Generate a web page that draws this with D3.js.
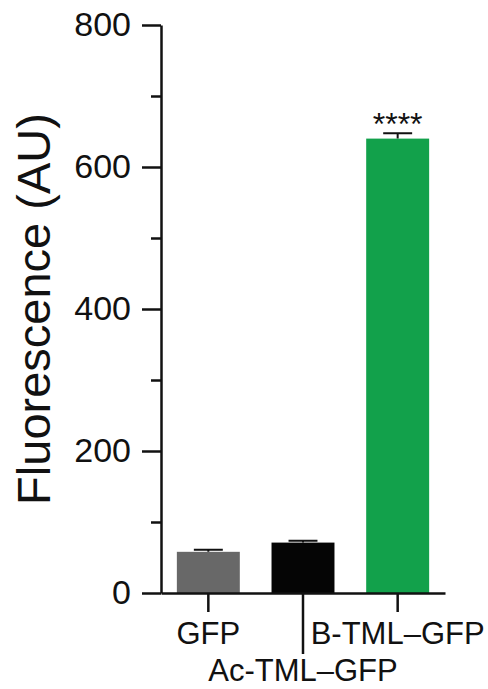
<!DOCTYPE html>
<html>
<head>
<meta charset="utf-8">
<script src="https://cdn.jsdelivr.net/npm/d3@7"></script>
<style>
	body { margin: 0; background: #fff; }
	svg { display: block; }
	text { font-family: "Liberation Sans", Arial, Helvetica, sans-serif; fill: #111; }
</style>
</head>
<body>
<div id="chart"></div>
<script>
// groups, means and SEM
const groups = ['GFP', 'Ac-TML\u2013GFP', 'B-TML\u2013GFP'];
const means = [58, 71, 640];
const errors = [3, 2.5, 7.5];
const barColors = ['#686868', '#050505', '#12a14b'];
const labelRows = [0, 1, 0];
const stars = ['', '', '****'];
const yTicks = [0, 200, 400, 600, 800];
const yMinorTicks = [100, 300, 500, 700];

const width = 488;
const height = 689;
const margin = {top: 25, right: 43, bottom: 96, left: 161};

let svg = d3.select('#chart')
	.append('svg')
	.attr('width', width)
	.attr('height', height);

let x = d3.scaleBand()
	.domain(groups)
	.range([margin.left, width - margin.right])
	.paddingInner(0.335)
	.paddingOuter(0.1675);

let y = d3.scaleLinear()
	.domain([0, 800])
	.range([height - margin.bottom, margin.top]);

let data = groups.map(function(g, i) {
	return {name: g, mean: means[i], err: errors[i], color: barColors[i], row: labelRows[i], star: stars[i]};
});

// bars
svg.selectAll('.bar')
	.data(data)
	.enter()
	.append('rect')
	.attr('class', 'bar')
	.attr('x', function(d) { return x(d.name); })
	.attr('y', function(d) { return y(d.mean); })
	.attr('width', x.bandwidth())
	.attr('height', function(d) { return y(0) - y(d.mean); })
	.attr('fill', function(d) { return d.color; });

// error bars (upper half only)
let capW = x.bandwidth() * 0.46;

svg.selectAll('.err')
	.data(data)
	.enter()
	.append('path')
	.attr('class', 'err')
	.attr('fill', 'none')
	.attr('stroke', '#111')
	.attr('stroke-width', 2)
	.attr('d', function(d) {
		let cx = x(d.name) + x.bandwidth() / 2;
		let top = y(d.mean + d.err);
		return 'M' + cx + ',' + y(d.mean) + 'V' + top +
			'M' + (cx - capW / 2) + ',' + top + 'H' + (cx + capW / 2);
	});

// significance
svg.selectAll('.star')
	.data(data.filter(function(d) { return d.star; }))
	.enter()
	.append('text')
	.attr('class', 'star')
	.attr('x', function(d) { return x(d.name) + x.bandwidth() / 2; })
	.attr('y', function(d) { return y(d.mean + d.err) + 2; })
	.attr('text-anchor', 'middle')
	.style('font-size', '32px')
	.text(function(d) { return d.star; });

// y axis
let yAxis = svg.append('g')
	.attr('transform', 'translate(' + margin.left + ',0)')
	.call(d3.axisLeft(y).tickValues(yTicks).tickSize(19).tickPadding(11).tickSizeOuter(0));

svg.append('g')
	.attr('transform', 'translate(' + margin.left + ',0)')
	.call(d3.axisLeft(y).tickValues(yMinorTicks).tickSize(10).tickFormat('').tickSizeOuter(0))
	.select('.domain').remove();

yAxis.selectAll('text')
	.style('font-size', '34px')
	.style('font-family', '"Liberation Sans", Arial, Helvetica, sans-serif')
	.attr('fill', '#111');

// x axis
let xAxis = svg.append('g')
	.attr('transform', 'translate(0,' + y(0) + ')')
	.call(d3.axisBottom(x).tickSize(0).tickSizeOuter(0).tickFormat(''));

xAxis.selectAll('.tick line')
	.attr('y2', function(d, i) { return labelRows[i] ? 61 : 19; });

xAxis.selectAll('.tick text')
	.attr('y', function(d, i) { return labelRows[i] ? 88 : 51; })
	.attr('dy', null)
	.style('font-size', '31px')
	.style('font-family', '"Liberation Sans", Arial, Helvetica, sans-serif')
	.attr('fill', '#111')
	.text(function(d) { return d; });

svg.selectAll('.domain, .tick line')
	.attr('stroke', '#111')
	.attr('stroke-width', 2.5);

// y axis title
svg.append('text')
	.attr('transform', 'translate(50,' + (y(0) + y(800)) / 2 + ') rotate(-90)')
	.attr('text-anchor', 'middle')
	.style('font-size', '47px')
	.text('Fluorescence (AU)');
</script>
</body>
</html>
